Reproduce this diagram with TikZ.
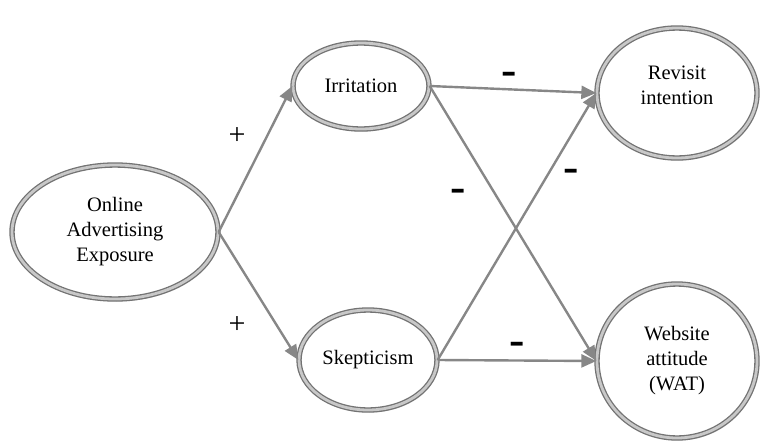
\documentclass[tikz,border=0pt]{standalone}
\usepackage{fontspec}
\setmainfont{Liberation Serif}
\newfontfamily\signfont{Liberation Sans}
\usetikzlibrary{arrows.meta,shadows,shapes.geometric}
\definecolor{rim}{RGB}{115,115,115}
\definecolor{rimin}{RGB}{200,200,200}
\definecolor{arr}{RGB}{135,135,135}
\tikzset{
  bubble/.style={ellipse, draw=rim, line width=1.3pt, double=rimin, double distance=2.8pt,
    fill=white, align=center, inner sep=0pt,
    font=\fontsize{20.5}{25}\selectfont,
    drop shadow={shadow xshift=1.5pt, shadow yshift=-2.5pt, opacity=0.3}},
  label text/.style={align=center, font=\fontsize{20.5}{25}\selectfont},
  link/.style={draw=arr, line width=2.4pt, -{Triangle[length=15pt,width=13pt]}},
  sign/.style={font=\signfont\fontsize{24}{24}\selectfont\bfseries},
  plus/.style={font=\fontsize{30}{30}\selectfont},
}
\begin{document}
\begin{tikzpicture}[x=1pt,y=-1pt]
\useasboundingbox (0,0) rectangle (766,442);
\node[bubble, minimum width=206pt, minimum height=134pt] (oae) at (115,232) {Online\\Advertising\\Exposure};
\node[bubble, minimum width=136pt, minimum height=86pt] (irr) at (361,86) {Irritation};
\node[bubble, minimum width=138pt, minimum height=100pt] (skp) at (368,360) {Skepticism};
\node[bubble, minimum width=160pt, minimum height=130pt] (rev) at (677,93) {};
\node[label text] (revt) at (677,85) {Revisit\\intention};
\node[bubble, minimum width=160pt, minimum height=154pt] (wat) at (677,361) {Website\\attitude\\(WAT)};

\draw[link] (oae.east) -- (irr.west);
\draw[link] (oae.east) -- (skp.west);
\draw[link] (irr.east) -- (rev.west);
\draw[link] (irr.east) -- (wat.west);
\draw[link] (skp.east) -- (rev.west);
\draw[link] (skp.east) -- (wat.west);

\node[plus] (p1) at (237,136) {+};
\node[plus] (p2) at (237,325) {+};
\node[sign] (m1) at (509,78) {\scalebox{1}[1.6]{–}};
\node[sign] (m2) at (458,195) {\scalebox{1}[1.6]{–}};
\node[sign] (m3) at (571,175) {\scalebox{1}[1.6]{–}};
\node[sign] (m4) at (517,348) {\scalebox{1}[1.6]{–}};
\end{tikzpicture}
\end{document}
